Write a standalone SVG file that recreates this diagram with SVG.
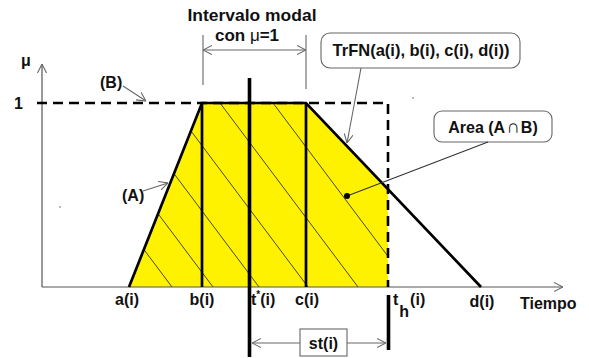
<svg xmlns="http://www.w3.org/2000/svg" width="589" height="358" viewBox="0 0 589 358">
<style>
text{font-family:"Liberation Sans",Arial,sans-serif;font-weight:bold;fill:#111;}
.lbl{font-size:16px;}
.axis{stroke:#555;stroke-width:1.2;fill:none;}
.ptr{stroke:#666;stroke-width:1.1;fill:none;}
.thick{stroke:#000;stroke-width:2.7;fill:none;stroke-linejoin:miter;}
.dash{stroke:#000;stroke-width:2.6;fill:none;stroke-dasharray:10 6;}
.hatch{stroke:#333;stroke-width:0.9;}
.box{fill:#fff;stroke:#666;stroke-width:1.1;}
</style>
<defs>
<marker id="open" viewBox="0 0 10 10" refX="10" refY="5" markerWidth="9" markerHeight="10" markerUnits="userSpaceOnUse" orient="auto-start-reverse">
<path d="M0,0 L10,5 L0,10" fill="none" stroke="#666" stroke-width="1.2"/>
</marker>
<clipPath id="areaClip"><polygon points="129,287 202,103 306,103 388,189 388,287"/></clipPath>
</defs>

<g id="area">
<polygon points="129,287 202,103 306,103 388,189 388,287" fill="#fff200"/>
<g clip-path="url(#areaClip)">
<line class="hatch" x1="34" y1="103" x2="172" y2="287"/>
<line class="hatch" x1="75" y1="103" x2="213" y2="287"/>
<line class="hatch" x1="121" y1="103" x2="259" y2="287"/>
<line class="hatch" x1="170" y1="103" x2="308" y2="287"/>
<line class="hatch" x1="220" y1="103" x2="358" y2="287"/>
<line class="hatch" x1="273" y1="103" x2="411" y2="287"/>
<line class="hatch" x1="324" y1="103" x2="462" y2="287"/>
</g>
</g>

<g id="axes">
<line class="axis" x1="42" y1="287" x2="42" y2="64" marker-end="url(#open)"/>
<line class="axis" x1="42" y1="287" x2="563" y2="287" marker-end="url(#open)"/>
<text class="lbl" x="21" y="66">μ</text>
<text class="lbl" x="14" y="109">1</text>
<text class="lbl" x="520" y="309">Tiempo</text>
</g>

<g id="setB">
<polyline class="dash" points="37,103 388,103 388,287"/>
<text class="lbl" x="100" y="88">(B)</text>
</g>

<g id="trfn">
<polyline class="thick" points="129,287 202,103 306,103 481,287"/>
<line class="thick" x1="202" y1="103" x2="202" y2="287" stroke-width="2.4"/>
<line class="thick" x1="306" y1="103" x2="306" y2="287" stroke-width="2.4"/>
<text class="lbl" x="122" y="201">(A)</text>
</g>

<g id="tstar">
<line stroke="#000" stroke-width="3.6" x1="249.5" y1="78" x2="249.5" y2="357"/>
</g>
<g id="th">
<line stroke="#000" stroke-width="3.6" x1="388.5" y1="295" x2="388.5" y2="350"/>
</g>

<g id="ticklabels">
<text class="lbl" x="127" y="305" text-anchor="middle">a(i)</text>
<text class="lbl" x="202" y="305" text-anchor="middle">b(i)</text>
<text class="lbl" x="251" y="305">t<tspan font-size="10" dy="-7">*</tspan><tspan dy="7">(i)</tspan></text>
<text class="lbl" x="307" y="305" text-anchor="middle">c(i)</text>
<text class="lbl" x="393" y="305">t<tspan dy="12" dx="1">h</tspan><tspan dy="-12" dx="1">(i)</tspan></text>
<text class="lbl" x="482" y="307" text-anchor="middle">d(i)</text>
</g>

<g id="modal">
<text x="252" y="21" font-size="17" text-anchor="middle" textLength="129" lengthAdjust="spacingAndGlyphs">Intervalo modal</text>
<text x="247" y="40.5" font-size="17" text-anchor="middle">con <tspan font-weight="normal">μ</tspan>=1</text>
<line class="ptr" x1="203" y1="35" x2="203" y2="85"/>
<line class="ptr" x1="306" y1="35" x2="306" y2="89"/>
</g>

<g id="trfnLabel">
<rect class="box" x="321" y="33" width="199" height="35" rx="9"/>
<text x="421" y="56" font-size="16.5" text-anchor="middle">TrFN(a(i), b(i), c(i), d(i))</text>
</g>

<g id="areaLabel">
<rect class="box" x="434" y="111" width="118" height="31" rx="8"/>
<text x="493" y="133" font-size="16" text-anchor="middle">Area (A<tspan font-weight="normal" font-size="19" dx="1">∩</tspan><tspan dx="1">B)</tspan></text>
</g>

<g id="stLabel">
<rect class="box" x="300" y="329" width="47" height="27"/>
<text x="323.5" y="349" font-size="16" text-anchor="middle">st(i)</text>
</g>

<g id="connectors">
<line class="ptr" x1="203" y1="50" x2="306" y2="50" marker-start="url(#open)" marker-end="url(#open)"/>
<line class="ptr" x1="123" y1="86" x2="146" y2="101" marker-end="url(#open)"/>
<line class="ptr" x1="143" y1="191" x2="168" y2="183" marker-end="url(#open)"/>
<line class="ptr" x1="361" y1="68" x2="347" y2="143" marker-end="url(#open)"/>
<line stroke="#333" stroke-width="1.1" x1="488" y1="142" x2="347" y2="196"/>
<circle cx="347" cy="196" r="3" fill="#000"/>
<line class="ptr" x1="300" y1="343" x2="252" y2="343" marker-end="url(#open)"/>
<line class="ptr" x1="347" y1="343" x2="386" y2="343" marker-end="url(#open)"/>
</g>
<circle cx="60" cy="207" r="0.8" fill="#666"/>
<circle cx="413" cy="98" r="0.8" fill="#666"/>
</svg>
